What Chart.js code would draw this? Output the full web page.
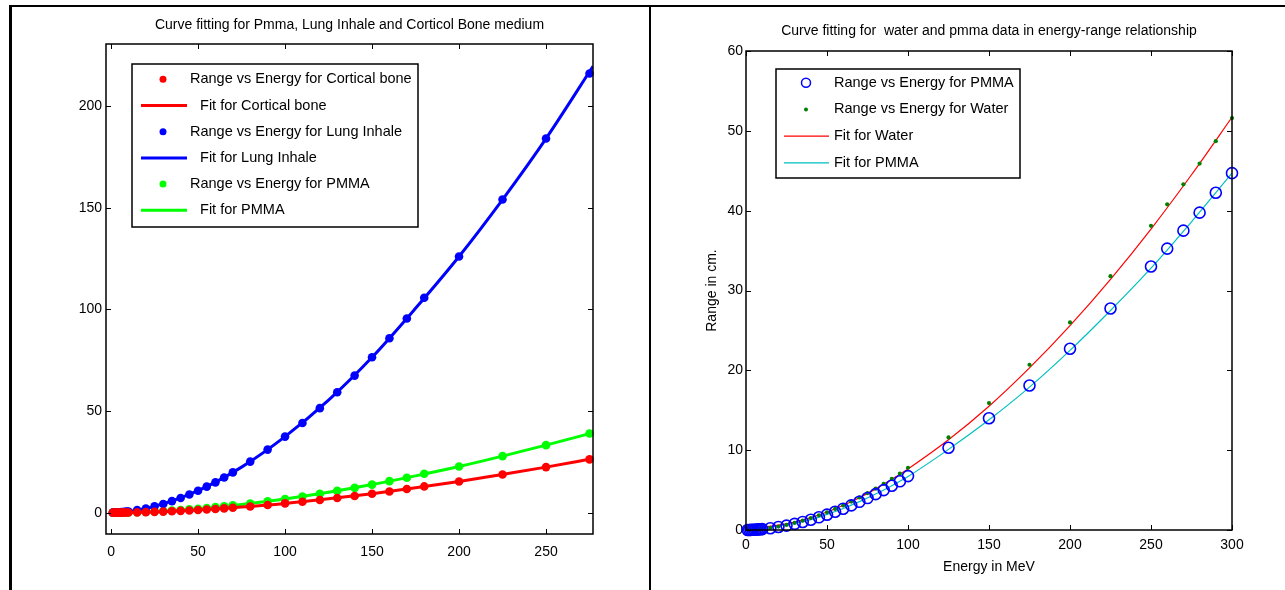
<!DOCTYPE html>
<html><head><meta charset="utf-8">
<script src="https://cdn.jsdelivr.net/npm/chart.js@4.4.1/dist/chart.umd.min.js"></script>
<style>
html,body{margin:0;padding:0;background:#fff;width:1285px;height:590px;overflow:hidden;}
.ln{position:absolute;background:#000;}
.wrap{position:absolute;}
</style></head><body>
<div class="ln" style="left:9px;top:5px;width:1276px;height:2px"></div>
<div class="ln" style="left:9px;top:5px;width:3px;height:585px"></div>
<div class="ln" style="left:649px;top:5px;width:2px;height:585px"></div>
<div class="wrap" style="left:12px;top:7px;width:636px;height:583px"><canvas id="c1" width="636" height="583"></canvas></div>
<div class="wrap" style="left:652px;top:7px;width:630px;height:583px"><canvas id="c2" width="630" height="583"></canvas></div>
<script>
// ---------- Left chart data ----------
const energyLeft = [1,2,3,4,5,6,7,8,9,10,15,20,25,30,35,40,45,50,55,60,65,70,80,90,100,110,120,130,140,150,160,170,180,200,225,250,275];
const rangeCortical = [0,0,0.01,0.01,0.02,0.03,0.04,0.05,0.06,0.07,0.15,0.25,0.38,0.52,0.69,0.88,1.09,1.31,1.55,1.82,2.1,2.41,3.06,3.78,4.55,5.37,6.25,7.2,8.2,9.3,10.4,11.6,12.9,15.3,18.8,22.4,26.2];
const rangeLung = [0.01,0.04,0.07,0.12,0.17,0.24,0.32,0.41,0.5,0.6,1.23,2.07,3.08,4.29,5.67,7.23,8.92,10.8,12.8,14.9,17.3,19.8,25.1,31.0,37.4,44.1,51.4,59.2,67.4,76.4,85.8,95.5,105.7,126.0,154.0,184.0,216.0];
const rangePMMALeft = [0,0.01,0.01,0.02,0.03,0.04,0.06,0.07,0.09,0.11,0.22,0.37,0.56,0.77,1.02,1.3,1.61,1.94,2.3,2.7,3.1,3.57,4.53,5.6,6.75,7.96,9.28,10.7,12.2,13.8,15.5,17.2,19.1,22.7,27.8,33.2,38.9];
const fitEnergyLeft = [0,10,25,50,75,100,125,150,175,200,225,250,277];
const fitCortical = [0.0,0.07,0.38,1.31,2.75,4.55,6.8,9.3,12.2,15.3,18.8,22.4,26.6];
const fitLung = [0.0,0.6,3.1,10.8,22.4,37.4,55.3,76.4,100.5,126.0,154.0,184.0,219.5];
const fitPMMALeft = [0.0,0.11,0.56,1.94,4.05,6.75,10.0,13.8,18.1,22.7,27.8,33.2,39.3];
const leftXTicks = [0,50,100,150,200,250];
const leftYTicks = [0,50,100,150,200];

// ---------- Right chart data ----------
const energyRight = [1,2,3,4,5,6,7,8,9,10,15,20,25,30,35,40,45,50,55,60,65,70,75,80,85,90,95,100,125,150,175,200,225,250,260,270,280,290,300];
const rangeWater = [0.003,0.008,0.015,0.025,0.036,0.05,0.066,0.084,0.103,0.123,0.254,0.426,0.636,0.885,1.17,1.49,1.84,2.22,2.64,3.08,3.56,4.08,4.62,5.18,5.78,6.4,7.05,7.8,11.6,15.9,20.7,26.0,31.8,38.1,40.8,43.3,45.9,48.7,51.6];
const rangePMMA = [0.002,0.007,0.013,0.022,0.031,0.043,0.057,0.073,0.089,0.107,0.22,0.37,0.55,0.77,1.01,1.29,1.59,1.92,2.29,2.67,3.08,3.53,4.0,4.49,5.0,5.54,6.1,6.75,10.3,14.0,18.1,22.7,27.75,33.0,35.25,37.5,39.75,42.25,44.7];
const fitEnergyRight = [0,10,20,30,40,50,60,70,80,90,100,125,150,175,200,225,250,275,300];
const fitWater = [0.3,0.35,0.6,1.0,1.55,2.25,3.1,4.05,5.15,6.35,7.65,11.3,15.5,20.3,25.6,31.4,37.7,44.5,51.7];
const fitPMMA = [0.3,0.33,0.5,0.85,1.3,1.95,2.7,3.55,4.5,5.55,6.7,10.1,13.8,17.9,22.5,27.5,32.8,38.6,44.7];
const rightXTicks = [0,50,100,150,200,250,300];
const rightYTicks = [0,10,20,30,40,50,60];

const FONT = "'Liberation Sans', Arial, Helvetica, sans-serif";
const zip = (xs, ys) => xs.map((x, i) => ({x, y: ys[i]}));

const framePlugin = {
  id: 'frame',
  afterDatasetsDraw(chart) {
    const {ctx, chartArea: {left, right, top, bottom}, scales: {x, y}} = chart;
    ctx.save();
    ctx.strokeStyle = '#000';
    ctx.lineWidth = 1.5;
    ctx.strokeRect(left, top, right - left, bottom - top);
    ctx.lineWidth = 1;
    const L = 5;
    ctx.beginPath();
    x.ticks.forEach(t => {
      const p = Math.round(x.getPixelForValue(t.value)) + 0.5;
      ctx.moveTo(p, bottom); ctx.lineTo(p, bottom - L);
      ctx.moveTo(p, top); ctx.lineTo(p, top + L);
    });
    y.ticks.forEach(t => {
      const p = Math.round(y.getPixelForValue(t.value)) + 0.5;
      ctx.moveTo(left, p); ctx.lineTo(left + L, p);
      ctx.moveTo(right, p); ctx.lineTo(right - L, p);
    });
    ctx.stroke();
    ctx.restore();
  }
};

const boxLegend = {
  id: 'boxLegend',
  afterDraw(chart, args, o) {
    const ctx = chart.ctx;
    const b = o.box;
    ctx.save();
    ctx.fillStyle = '#fff';
    ctx.fillRect(b.x, b.y, b.w, b.h);
    ctx.save();
    ctx.beginPath(); ctx.rect(b.x, b.y, b.w, b.h); ctx.clip();
    chart.data.datasets.forEach((ds, i) => {
      const yy = o.rowY + i * o.rowH;
      if (ds.showLine) {
        ctx.strokeStyle = ds.borderColor;
        ctx.lineWidth = ds.borderWidth;
        ctx.beginPath(); ctx.moveTo(o.lineX0, yy); ctx.lineTo(o.lineX1, yy); ctx.stroke();
      } else {
        ctx.beginPath();
        ctx.arc(o.markX, yy, o.markR[i], 0, Math.PI * 2);
        if (ds.legendHollow) {
          ctx.strokeStyle = ds.pointBorderColor; ctx.lineWidth = 1.5; ctx.stroke();
        } else {
          ctx.fillStyle = ds.pointBackgroundColor; ctx.fill();
        }
      }
      ctx.fillStyle = '#000';
      ctx.font = o.fontSize + 'px ' + FONT;
      ctx.textBaseline = 'middle';
      ctx.textAlign = 'left';
      ctx.fillText(ds.label, ds.showLine ? o.textXFit : o.textX, yy);
    });
    ctx.restore();
    ctx.strokeStyle = '#000';
    ctx.lineWidth = 1.5;
    ctx.strokeRect(b.x, b.y, b.w, b.h);
    ctx.restore();
  }
};

function dots(label, xs, ys, color, r) {
  return {label, data: zip(xs, ys), showLine: false, pointRadius: r, pointHoverRadius: r,
    pointBackgroundColor: color, pointBorderColor: color, pointBorderWidth: 0, clip: false};
}
function fitLine(label, xs, ys, color, w) {
  return {label, data: zip(xs, ys), showLine: true, pointRadius: 0, borderColor: color,
    borderWidth: w, cubicInterpolationMode: 'monotone', fill: false};
}

function baseScales(xMin, xMax, yMin, yMax, xTicks, yTicks, yWidth, xHeight, xPad, yPad) {
  return {
    x: {type: 'linear', min: xMin, max: xMax,
      grid: {display: false, drawTicks: false}, border: {display: false},
      ticks: {color: '#000', font: {family: FONT, size: 14}, padding: xPad, autoSkip: false, maxRotation: 0},
      afterBuildTicks: s => { s.ticks = xTicks.map(v => ({value: v})); },
      afterFit: s => { s.height = xHeight; }},
    y: {type: 'linear', min: yMin, max: yMax,
      grid: {display: false, drawTicks: false}, border: {display: false},
      ticks: {color: '#000', font: {family: FONT, size: 14}, padding: yPad, autoSkip: false},
      afterBuildTicks: s => { s.ticks = yTicks.map(v => ({value: v})); },
      afterFit: s => { s.width = yWidth; }}
  };
}

// ---------- Left chart ----------
const leftScales = baseScales(-2.9, 277, -10.5, 230.5, leftXTicks, leftYTicks, 94, 56, 10, 4);
new Chart(document.getElementById('c1'), {
  type: 'scatter',
  data: {datasets: [
    dots('Range vs Energy for Cortical bone', energyLeft, rangeCortical, '#ff0000', 4.3),
    fitLine(' Fit for Cortical bone', fitEnergyLeft, fitCortical, '#ff0000', 3),
    dots('Range vs Energy for Lung Inhale', energyLeft, rangeLung, '#0000ff', 4.3),
    fitLine(' Fit for Lung Inhale', fitEnergyLeft, fitLung, '#0000ff', 3),
    dots('Range vs Energy for PMMA', energyLeft, rangePMMALeft, '#00ff00', 4.3),
    fitLine(' Fit for PMMA', fitEnergyLeft, fitPMMALeft, '#00ff00', 3)
  ]},
  options: {
    responsive: false, animation: false, events: [],
    layout: {padding: {left: 0, right: 55, top: 0, bottom: 0}},
    scales: leftScales,
    plugins: {
      legend: {display: false}, tooltip: {enabled: false},
      title: {display: true, fullSize: false, text: 'Curve fitting for Pmma, Lung Inhale and Corticol Bone medium',
        color: '#000', font: {family: FONT, size: 14, weight: 'normal', lineHeight: 1.2}, padding: {top: 9.6, bottom: 10.6}},
      boxLegend: {box: {x: 120, y: 57, w: 286, h: 163}, rowY: 72.3, rowH: 26.2,
        markX: 151, markR: [3.5,0,3.5,0,3.5,0], lineX0: 129, lineX1: 175, textX: 178, textXFit: 184, fontSize: 14.5}
    }
  },
  plugins: [framePlugin, boxLegend]
});

// ---------- Right chart ----------
const rightScales = baseScales(0, 300, 0, 60, rightXTicks, rightYTicks, 94, 60, 7, 3);
rightScales.x.title = {display: true, text: 'Energy in MeV', color: '#000', font: {family: FONT, size: 14, lineHeight: 1.2}, padding: {top: 0, bottom: 14}};
rightScales.y.title = {display: true, text: 'Range in cm.', color: '#000', font: {family: FONT, size: 14, lineHeight: 1.2}, padding: {top: 51.6, bottom: 0}};
const pmmaCircles = {label: 'Range vs Energy for PMMA', data: zip(energyRight, rangePMMA), showLine: false,
  pointRadius: 5.5, pointHoverRadius: 5.5, pointBackgroundColor: 'rgba(0,0,0,0)', pointBorderColor: '#0000ff',
  pointBorderWidth: 1.6, clip: false, legendHollow: true};
new Chart(document.getElementById('c2'), {
  type: 'scatter',
  data: {datasets: [
    pmmaCircles,
    dots('Range vs Energy for Water', energyRight, rangeWater, '#008000', 2.1),
    fitLine('Fit for Water', fitEnergyRight, fitWater, '#ff0000', 1.2),
    fitLine('Fit for PMMA', fitEnergyRight, fitPMMA, '#00bfbf', 1.2)
  ]},
  options: {
    responsive: false, animation: false, events: [],
    layout: {padding: {left: 0, right: 50, top: 0, bottom: 0}},
    scales: rightScales,
    plugins: {
      legend: {display: false}, tooltip: {enabled: false},
      title: {display: true, fullSize: false, text: 'Curve fitting for  water and pmma data in energy-range relationship',
        color: '#000', font: {family: FONT, size: 14, weight: 'normal', lineHeight: 1.2}, padding: {top: 15.6, bottom: 11.6}},
      boxLegend: {box: {x: 124, y: 62, w: 244, h: 109}, rowY: 75.7, rowH: 26.7,
        markX: 154, markR: [4.5, 2, 0, 0], lineX0: 132, lineX1: 177, textX: 182, textXFit: 182, fontSize: 14.5}
    }
  },
  plugins: [framePlugin, boxLegend]
});
</script>
</body></html>
